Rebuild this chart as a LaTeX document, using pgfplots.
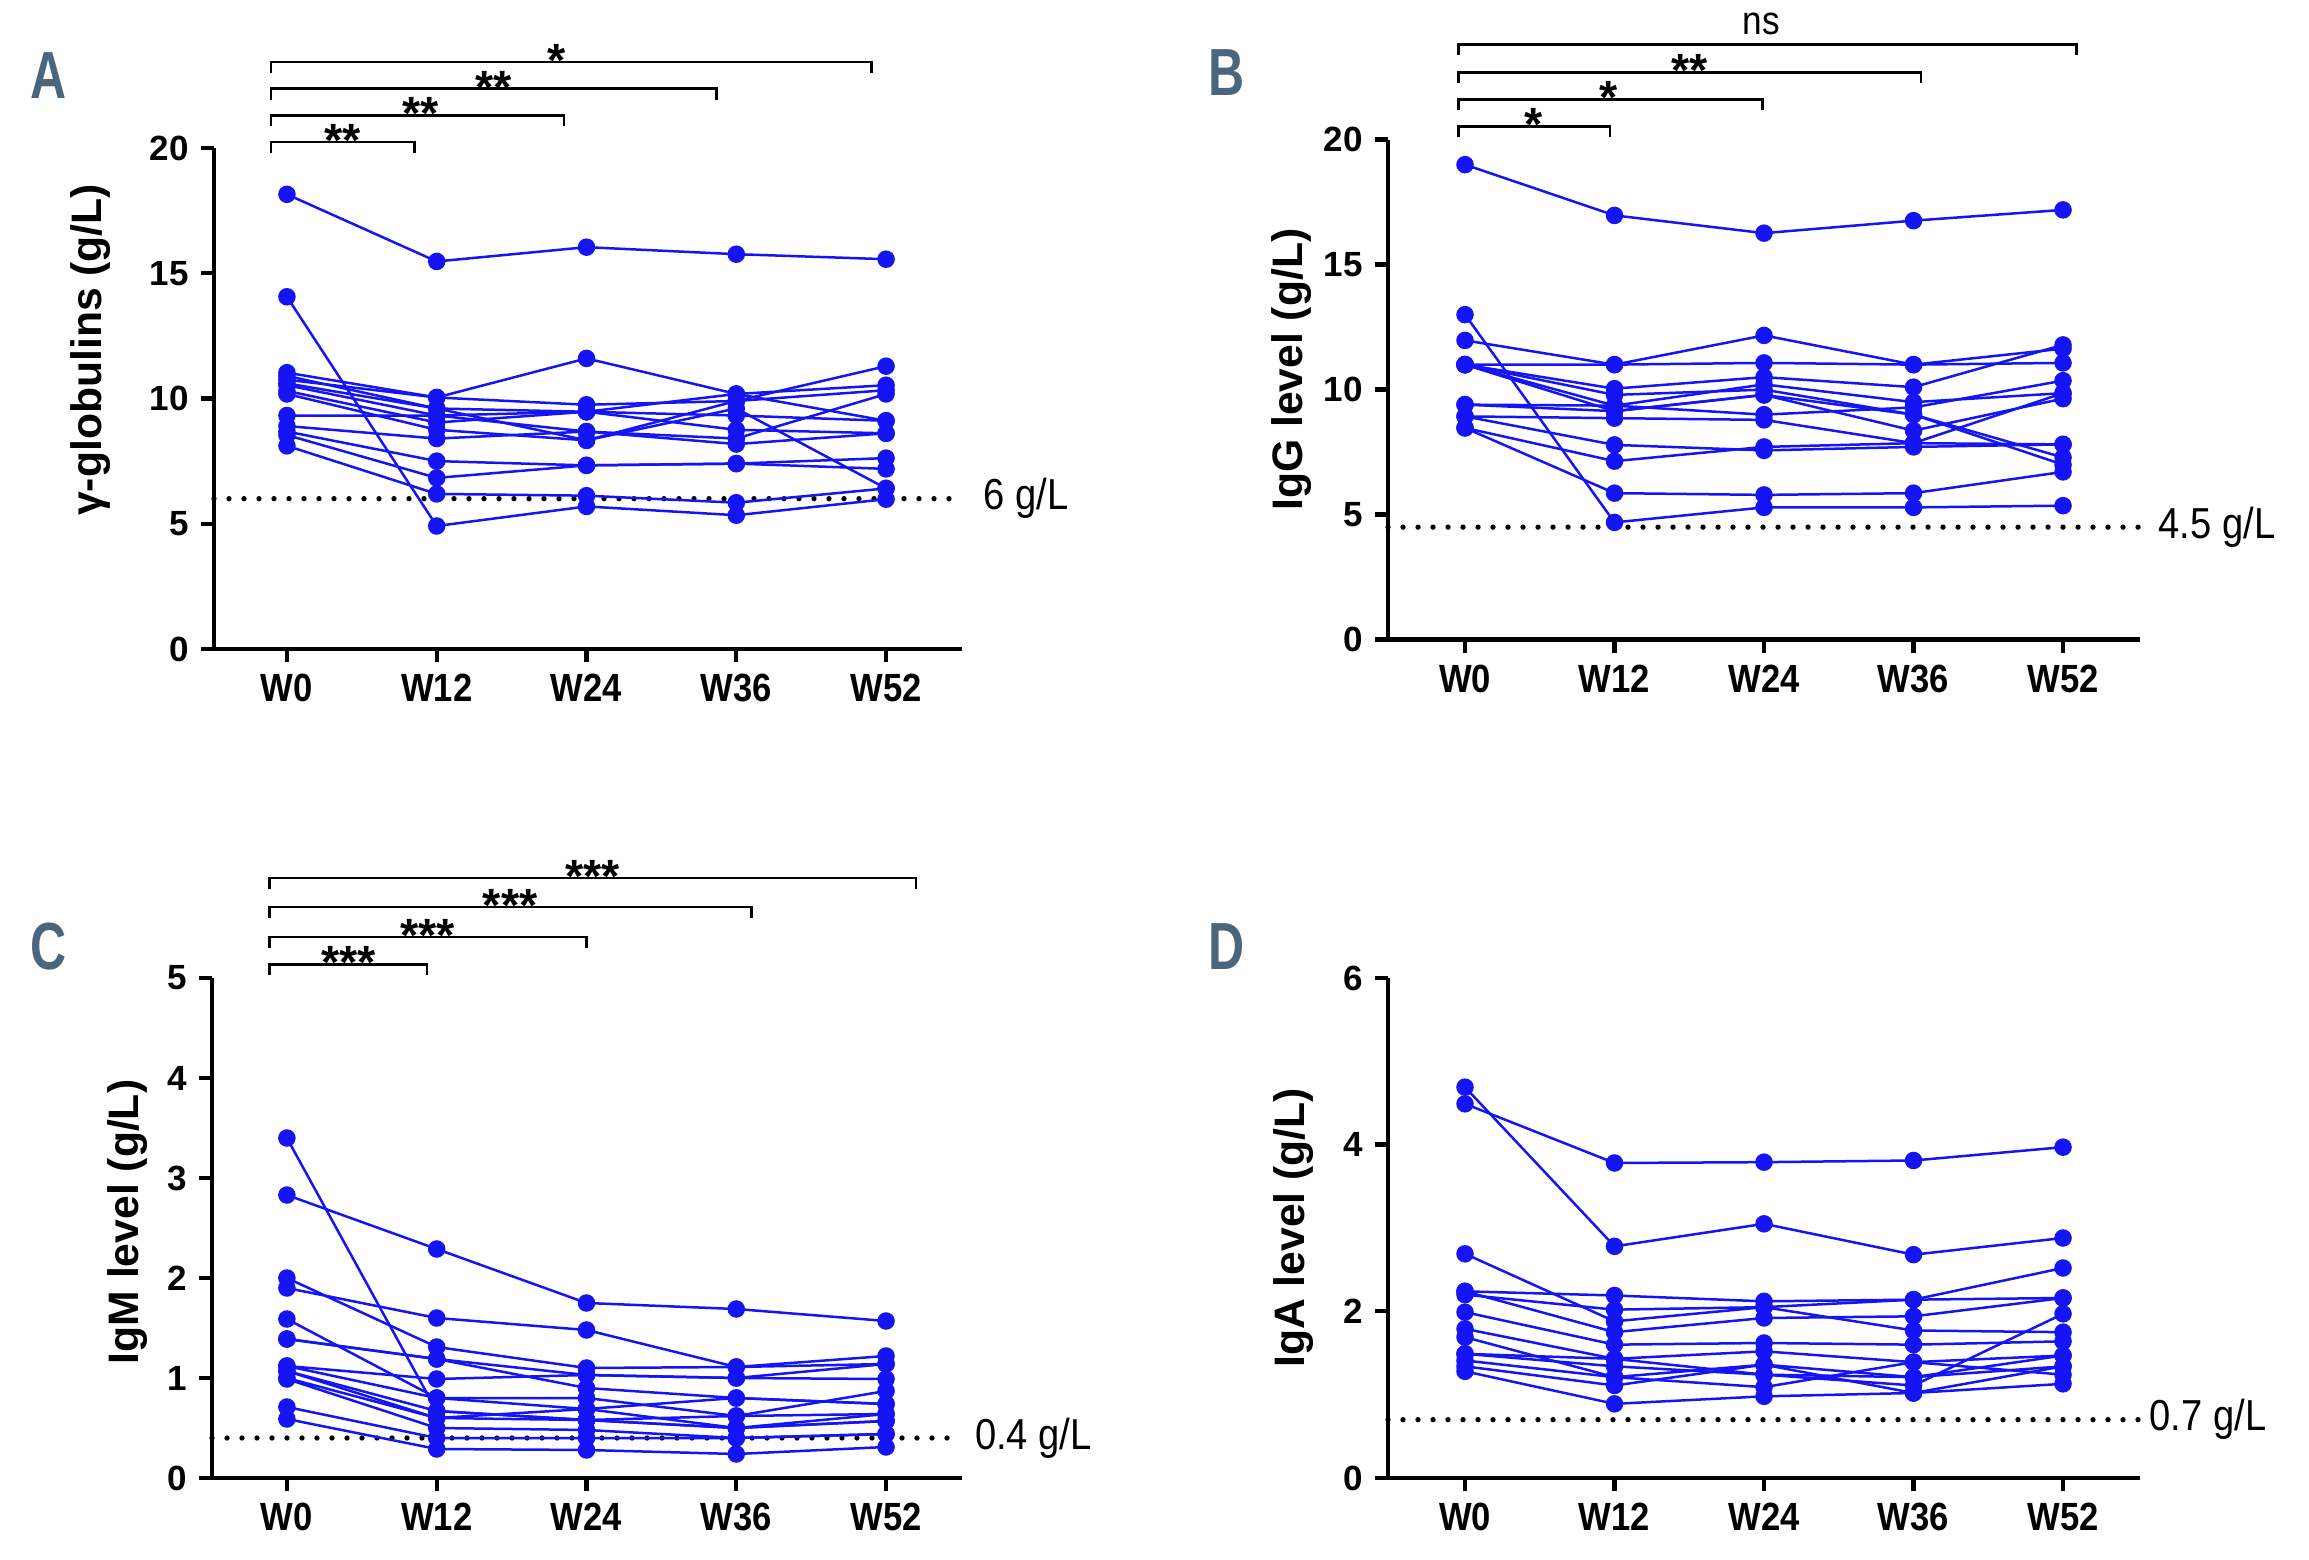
\documentclass[border=0pt]{standalone}
\usepackage{fontspec}
\setmainfont{Liberation Sans}
\newfontfamily\condfont[FakeStretch=0.75]{Liberation Sans}
\newfontfamily\narrowfont[FakeStretch=0.88]{Liberation Sans}
\usepackage{pgfplots}
\usepackage{pgfplotstable}
\pgfplotsset{compat=1.18}

\definecolor{ptblue}{RGB}{20,20,245}
\definecolor{lettercol}{RGB}{74,101,124}

% one row per week, one column per patient
\pgfplotstableread{
x s1 s2 s3 s4 s5 s6 s7 s8 s9 s10 s11 s12 s13 s14
0 18.15 14.06 11.03 10.90 10.75 10.60 10.53 10.30 10.18 9.32 8.90 8.68 8.54 8.11
1 15.47 4.91 10.04 9.60 10.04 9.60 9.32 9.04 8.75 9.32 8.40 7.50 6.83 6.19
2 16.04 5.69 11.60 9.47 9.75 8.33 8.68 9.47 8.33 9.47 8.68 7.33 7.33 6.12
3 15.76 5.34 10.18 10.18 9.90 9.60 8.40 8.75 9.90 9.32 8.18 7.40 7.40 5.84
4 15.56 5.98 9.11 10.53 11.29 6.41 10.18 8.61 10.33 9.11 8.61 7.19 7.62 6.41
}\dataA
\pgfplotstableread{
x s1 s2 s3 s4 s5 s6 s7 s8 s9 s10 s11 s12 s13 s14
0 19.00 13.00 11.97 11.00 11.00 11.00 11.00 11.00 9.40 9.40 8.93 8.93 8.47 8.47
1 16.97 4.69 11.00 11.00 10.04 9.36 9.14 9.79 9.36 9.14 8.86 7.79 7.14 5.86
2 16.26 5.29 12.17 11.07 10.50 10.21 9.79 10.00 9.00 9.79 8.79 7.57 7.71 5.79
3 16.76 5.29 11.00 11.00 10.10 9.50 8.36 9.00 9.29 9.00 7.86 7.71 7.86 5.86
4 17.19 5.36 11.64 11.07 11.79 9.86 9.64 7.00 10.36 7.29 7.81 7.81 9.86 6.71
}\dataB
\pgfplotstableread{
x s1 s2 s3 s4 s5 s6 s7 s8 s9 s10 s11 s12 s13 s14 s15
0 3.40 2.83 2.00 1.90 1.59 1.39 1.39 1.12 1.12 1.07 1.07 0.99 0.71 0.59 1.00
1 0.67 2.29 1.31 1.60 0.80 1.19 1.19 0.99 0.80 0.67 0.60 0.50 0.40 0.29 0.60
2 0.58 1.75 1.10 1.48 0.80 1.03 0.90 1.03 0.69 0.58 0.58 0.48 0.40 0.28 0.69
3 0.50 1.69 1.11 1.11 0.62 1.00 0.80 1.00 0.80 0.62 0.50 0.40 0.40 0.24 0.50
4 0.57 1.57 1.22 1.14 0.87 0.99 0.74 1.14 0.74 0.64 0.57 0.44 0.44 0.31 0.64
}\dataC
\pgfplotstableread{
x s1 s2 s3 s4 s5 s6 s7 s8 s9 s10 s11 s12 s13 s14
0 4.49 4.69 2.69 2.24 2.20 2.24 1.99 1.79 1.69 1.49 1.41 1.34 1.28 1.49
1 3.78 2.78 1.88 2.19 2.02 1.75 1.60 1.43 1.21 1.34 1.21 1.11 0.89 1.43
2 3.79 3.05 2.05 2.12 2.05 1.92 1.62 1.52 1.36 1.24 1.09 1.36 0.98 1.24
3 3.81 2.68 2.14 2.14 1.77 1.94 1.60 1.39 1.21 1.11 1.39 1.02 1.02 1.21
4 3.97 2.88 2.52 2.16 1.75 2.16 1.64 1.47 1.34 1.97 1.24 1.34 1.13 1.47
}\dataD

\pgfplotsset{
  panel/.style={
    scale only axis,
    axis lines*=left,
    axis line style={line width=1.3pt},
    tick style={line width=1.3pt, black},
    major tick length=4pt,
    tick align=outside,
    xtick={0,1,2,3,4},
    xticklabels={W0,W12,W24,W36,W52},
    yticklabel style={font=\bfseries\fontsize{10.5}{12}\selectfont},
    xticklabel style={font=\narrowfont\bfseries\fontsize{11.8}{13}\selectfont},
    /pgf/number format/assume math mode=true,
    ylabel style={font=\bfseries\fontsize{12.8}{14}\selectfont, anchor=center},
    ymin=0,
    clip=false,
  },
  pts/.style={ptblue, line width=0.75pt, mark=*, mark size=2.25pt, mark options={solid, fill=ptblue}},
  thr/.style={black, line width=1.6pt, line cap=round, dash pattern=on 0pt off 4.5pt},
}

\newcommand{\brk}[3]{%
  \draw[line width=0.85pt] ([yshift=-3.2pt]axis cs:#1,#3) -- (axis cs:#1,#3)
    -- (axis cs:#2,#3) -- ([yshift=-3.2pt]axis cs:#2,#3);}
\newcommand{\stars}[3]{%
  \node[anchor=base, inner sep=0pt, font=\bfseries\fontsize{14}{15}\selectfont]
    at ([yshift=-4.3pt]axis cs:#1,#2) {#3};}
\newcommand{\thrlab}[3]{%
  \node[anchor=west, inner sep=0pt, font=\narrowfont\fontsize{13}{15}\selectfont] at (axis cs:#1,#2) {#3};}

\begin{document}
\begin{tikzpicture}
\path[use as bounding box] (0,0) rectangle (692.7pt,468pt);

% ---------- A ----------
\begin{axis}[panel, at={(64.2pt,273.3pt)}, anchor=south west,
  width=224.4pt, height=150.3pt,
  xmin=-0.487, xmax=4.507, ymax=20, ytick={0,5,10,15,20},
  ylabel={γ-globulins (g/L)},
  ylabel style={at={(axis description cs:-0.165,0.597)}}]
  \addplot[thr] coordinates {(-0.487,6) (4.507,6)};
  \pgfplotsinvokeforeach{1,...,14}{\addplot[pts] table[x=x,y=s#1]{\dataA};}
  \thrlab{4.648}{6}{6 g/L}
  \brk{-0.107}{0.85}{20.24}\stars{0.37}{20.24}{**}
  \brk{-0.107}{1.85}{21.3}\stars{0.89}{21.3}{**}
  \brk{-0.107}{2.87}{22.36}\stars{1.38}{22.36}{**}
  \brk{-0.107}{3.90}{23.43}\stars{1.80}{23.43}{*}
\end{axis}

% ---------- B ----------
\begin{axis}[panel, at={(416.4pt,276.1pt)}, anchor=south west,
  width=225.6pt, height=150pt,
  xmin=-0.515, xmax=4.515, ymax=20, ytick={0,5,10,15,20},
  ylabel={IgG level (g/L)},
  ylabel style={at={(axis description cs:-0.128,0.54)}}]
  \addplot[thr] coordinates {(-0.515,4.5) (4.515,4.5)};
  \pgfplotsinvokeforeach{1,...,14}{\addplot[pts] table[x=x,y=s#1]{\dataB};}
  \thrlab{4.635}{4.5}{4.5 g/L}
  \brk{-0.043}{0.97}{20.52}\stars{0.46}{20.52}{*}
  \brk{-0.043}{1.99}{21.6}\stars{0.96}{21.6}{*}
  \brk{-0.043}{3.05}{22.68}\stars{1.50}{22.68}{**}
  \brk{-0.043}{4.09}{23.8}
  \node[anchor=base, inner sep=0pt, font=\narrowfont\fontsize{12}{13}\selectfont]
    at ([yshift=3pt]axis cs:1.98,23.8) {ns};
\end{axis}

% ---------- C ----------
\begin{axis}[panel, at={(63.6pt,24.6pt)}, anchor=south west,
  width=225pt, height=150pt,
  xmin=-0.50, xmax=4.507, ymax=5, ytick={0,1,2,3,4,5},
  ylabel={IgM level (g/L)},
  ylabel style={at={(axis description cs:-0.112,0.512)}}]
  \addplot[thr] coordinates {(-0.50,0.4) (4.507,0.4)};
  \pgfplotsinvokeforeach{1,...,15}{\addplot[pts] table[x=x,y=s#1]{\dataC};}
  \thrlab{4.59}{0.4}{0.4 g/L}
  \brk{-0.117}{0.935}{5.135}\stars{0.41}{5.135}{***}
  \brk{-0.117}{2.0}{5.41}\stars{0.94}{5.41}{***}
  \brk{-0.117}{3.1}{5.71}\stars{1.49}{5.71}{***}
  \brk{-0.117}{4.2}{6.0}\stars{2.04}{6.0}{***}
\end{axis}

% ---------- D ----------
\begin{axis}[panel, at={(416.4pt,24.6pt)}, anchor=south west,
  width=225.6pt, height=150pt,
  xmin=-0.515, xmax=4.515, ymax=6, ytick={0,2,4,6},
  ylabel={IgA level (g/L)},
  ylabel style={at={(axis description cs:-0.125,0.5)}}]
  \addplot[thr] coordinates {(-0.515,0.7) (4.515,0.7)};
  \pgfplotsinvokeforeach{1,...,14}{\addplot[pts] table[x=x,y=s#1]{\dataD};}
  \thrlab{4.575}{0.7}{0.7 g/L}
\end{axis}

% panel letters
\begin{scope}[every node/.style={font=\condfont\bfseries\fontsize{20}{20}\selectfont, text=lettercol, inner sep=0pt}]
  \node at (14.7pt,445.2pt) {A};
  \node at (368.1pt,446.1pt) {B};
  \node at (14.7pt,183.9pt) {C};
  \node at (368.1pt,183.9pt) {D};
\end{scope}
\end{tikzpicture}
\end{document}
